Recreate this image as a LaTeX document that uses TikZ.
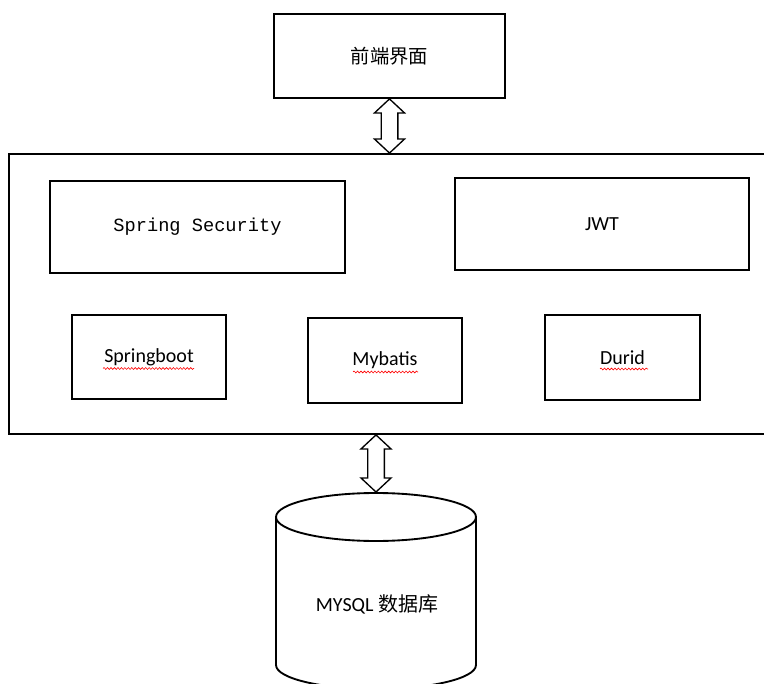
\documentclass[tikz,border=0pt]{standalone}
\usepackage{fontspec}
\setmainfont{Carlito}
\newfontfamily\cjk{Noto Sans CJK SC}
\newfontfamily\monofam{Liberation Mono}
\usetikzlibrary{calc,decorations.pathmorphing}

\tikzset{
  box/.style={draw, line width=1.4pt, inner sep=0pt, font=\fontsize{15}{18}\selectfont},
  fatline/.style={draw, line width=1pt, fill=white},
  spellmark/.style={draw=red, line width=0.45pt, decorate, decoration={snake, segment length=2.6pt, amplitude=0.7pt}}
}
\newcommand{\fatarrow}[2]{%
  \draw[fatline] let \p1=(#1), \p2=(#2) in
    (\x1,\y1) -- (\x1+11.25pt,\y1-10.5pt) -- (\x1+6.25pt,\y1-10.5pt) -- (\x1+6.25pt,\y2+10.5pt)
    -- (\x1+11.25pt,\y2+10.5pt) -- (\x1,\y2) -- (\x1-11.25pt,\y2+10.5pt) -- (\x1-6.25pt,\y2+10.5pt)
    -- (\x1-6.25pt,\y1-10.5pt) -- (\x1-11.25pt,\y1-10.5pt) -- cycle;}

\begin{document}
\begin{tikzpicture}[x=0.75pt, y=-0.75pt]
\useasboundingbox (0,0) rectangle (764,684);
\clip (0,0) rectangle (764,684);
\node[name=front, box, minimum width=173.25pt, minimum height=63pt, font=\cjk\fontsize{14.5}{17}\selectfont] at (389.5,56) {前端界面};
\node[name=outer, box, minimum width=593.25pt, minimum height=210pt] at (404.5,294) {};
\node[name=security, box, minimum width=221.25pt, minimum height=69pt, font=\monofam\fontsize{14}{17}\selectfont] at (197.5,227) {Spring Security};
\node[name=jwt, box, minimum width=220.5pt, minimum height=69pt] at (602,224) {JWT};
\node[name=springboot, box, minimum width=115.5pt, minimum height=63pt] at (149,357) {Springboot};
\node[name=mybatis, box, minimum width=115.5pt, minimum height=63.75pt] at (385,360.5) {Mybatis};
\node[name=durid, box, minimum width=116.25pt, minimum height=63.75pt] at (622.5,357.5) {Durid};
\foreach \nd/\from/\to in {springboot/-46/45, mybatis/-32/33, durid/-22.5/25.5}
  \draw[spellmark] ($(\nd.center)+(\from,11.5)$) -- ($(\nd.center)+(\to,11.5)$);
% database
\coordinate (dbtop) at (376,492);
\draw[line width=1.4pt, fill=white] (276,517) -- (276,665) arc[start angle=180, end angle=360, x radius=75pt, y radius=18pt] -- (476,517);
\draw[line width=1.4pt] (376,517) ellipse[x radius=75pt, y radius=18pt];
\node[name=db, font=\fontsize{15}{18}\selectfont] at (377,604) {MYSQL {\cjk 数据库}};
\fatarrow{front.south}{front.south |- outer.north}
\fatarrow{dbtop |- outer.south}{dbtop}
\end{tikzpicture}
\end{document}
